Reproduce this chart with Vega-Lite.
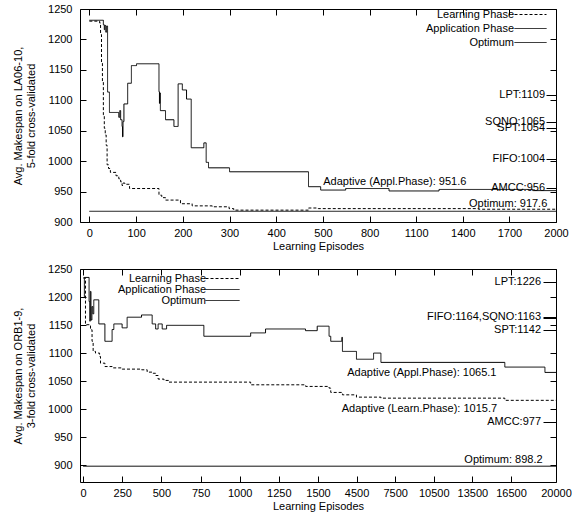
{
  "$schema": "https://vega.github.io/schema/vega-lite/v6.json",
  "padding": {"left": 12, "top": 2, "right": 0, "bottom": 0},
  "spacing": 10,
  "config": {
    "font": "Liberation Sans",
    "view": {"stroke": "black", "strokeWidth": 1},
    "axis": {"domain": false, "grid": false, "labelFont": "Liberation Sans", "labelFontSize": 11, "labelColor": "black", "labelOverlap": false, "labelFlush": false, "labelBound": false, "ticks": true, "tickColor": "black", "tickWidth": 1, "titleFont": "Liberation Sans", "titleFontSize": 11, "titleFontWeight": "normal", "titleColor": "black"},
    "legend": {"labelFont": "Liberation Sans", "labelFontSize": 11, "labelColor": "black", "padding": 0},
    "text": {"font": "Liberation Sans", "fontSize": 11, "color": "black"}
  },
  "resolve": {"scale": {"x": "independent", "y": "independent", "strokeDash": "independent"}, "legend": {"strokeDash": "independent"}},
  "datasets": {
    "top_lines": [
      {"series": "Learning Phase", "episode": 0, "makespan": 1230},
      {"series": "Learning Phase", "episode": 22, "makespan": 1227},
      {"series": "Learning Phase", "episode": 24, "makespan": 1208},
      {"series": "Learning Phase", "episode": 26, "makespan": 1161},
      {"series": "Learning Phase", "episode": 28, "makespan": 1131},
      {"series": "Learning Phase", "episode": 30, "makespan": 1076},
      {"series": "Learning Phase", "episode": 32, "makespan": 1054},
      {"series": "Learning Phase", "episode": 34, "makespan": 1043},
      {"series": "Learning Phase", "episode": 36, "makespan": 1026},
      {"series": "Learning Phase", "episode": 38, "makespan": 994},
      {"series": "Learning Phase", "episode": 41, "makespan": 988},
      {"series": "Learning Phase", "episode": 45, "makespan": 981.5},
      {"series": "Learning Phase", "episode": 57, "makespan": 976},
      {"series": "Learning Phase", "episode": 63, "makespan": 971},
      {"series": "Learning Phase", "episode": 67, "makespan": 966},
      {"series": "Learning Phase", "episode": 70, "makespan": 960},
      {"series": "Learning Phase", "episode": 72, "makespan": 964},
      {"series": "Learning Phase", "episode": 76, "makespan": 962},
      {"series": "Learning Phase", "episode": 86, "makespan": 955},
      {"series": "Learning Phase", "episode": 149, "makespan": 944},
      {"series": "Learning Phase", "episode": 155, "makespan": 940},
      {"series": "Learning Phase", "episode": 163, "makespan": 936},
      {"series": "Learning Phase", "episode": 195, "makespan": 930},
      {"series": "Learning Phase", "episode": 220, "makespan": 926.5},
      {"series": "Learning Phase", "episode": 263, "makespan": 925},
      {"series": "Learning Phase", "episode": 299, "makespan": 922},
      {"series": "Learning Phase", "episode": 309, "makespan": 919.5},
      {"series": "Learning Phase", "episode": 469, "makespan": 923},
      {"series": "Learning Phase", "episode": 490, "makespan": 922},
      {"series": "Learning Phase", "episode": 1500, "makespan": 921},
      {"series": "Learning Phase", "episode": 2000, "makespan": 921},
      {"series": "Application Phase", "episode": 0, "makespan": 1231.5},
      {"series": "Application Phase", "episode": 30, "makespan": 1224},
      {"series": "Application Phase", "episode": 32, "makespan": 1216},
      {"series": "Application Phase", "episode": 33, "makespan": 1223},
      {"series": "Application Phase", "episode": 35, "makespan": 1212},
      {"series": "Application Phase", "episode": 37, "makespan": 1222},
      {"series": "Application Phase", "episode": 39, "makespan": 1113.5},
      {"series": "Application Phase", "episode": 43, "makespan": 1080},
      {"series": "Application Phase", "episode": 62, "makespan": 1080},
      {"series": "Application Phase", "episode": 63, "makespan": 1072},
      {"series": "Application Phase", "episode": 65, "makespan": 1083},
      {"series": "Application Phase", "episode": 67, "makespan": 1068},
      {"series": "Application Phase", "episode": 70, "makespan": 1057},
      {"series": "Application Phase", "episode": 71, "makespan": 1040},
      {"series": "Application Phase", "episode": 72, "makespan": 1065},
      {"series": "Application Phase", "episode": 74, "makespan": 1094},
      {"series": "Application Phase", "episode": 82, "makespan": 1128},
      {"series": "Application Phase", "episode": 90, "makespan": 1157},
      {"series": "Application Phase", "episode": 101, "makespan": 1160},
      {"series": "Application Phase", "episode": 149, "makespan": 1114},
      {"series": "Application Phase", "episode": 150, "makespan": 1095},
      {"series": "Application Phase", "episode": 151, "makespan": 1112},
      {"series": "Application Phase", "episode": 152, "makespan": 1083},
      {"series": "Application Phase", "episode": 163, "makespan": 1068},
      {"series": "Application Phase", "episode": 181, "makespan": 1057},
      {"series": "Application Phase", "episode": 190, "makespan": 1127},
      {"series": "Application Phase", "episode": 199, "makespan": 1117},
      {"series": "Application Phase", "episode": 208, "makespan": 1102},
      {"series": "Application Phase", "episode": 218, "makespan": 1022},
      {"series": "Application Phase", "episode": 245, "makespan": 1030},
      {"series": "Application Phase", "episode": 250, "makespan": 998},
      {"series": "Application Phase", "episode": 255, "makespan": 989},
      {"series": "Application Phase", "episode": 300, "makespan": 982.5},
      {"series": "Application Phase", "episode": 469, "makespan": 958},
      {"series": "Application Phase", "episode": 495, "makespan": 952.5},
      {"series": "Application Phase", "episode": 646, "makespan": 955},
      {"series": "Application Phase", "episode": 925, "makespan": 951},
      {"series": "Application Phase", "episode": 1247, "makespan": 953.5},
      {"series": "Application Phase", "episode": 1850, "makespan": 951.6},
      {"series": "Application Phase", "episode": 2000, "makespan": 951.6},
      {"series": "Optimum", "episode": 0, "makespan": 917.6},
      {"series": "Optimum", "episode": 2000, "makespan": 917.6}
    ],
    "top_marks": [
      {"label": "LPT:1109", "value": 1109},
      {"label": "SQNO:1065", "value": 1065},
      {"label": "SPT:1054", "value": 1054},
      {"label": "FIFO:1004", "value": 1004},
      {"label": "AMCC:956", "value": 956}
    ],
    "top_notes": [
      {"note": "Adaptive (Appl.Phase): 951.6", "episode": 1423, "makespan": 966},
      {"note": "Optimum: 917.6", "episode": 1944, "makespan": 930}
    ],
    "bot_lines": [
      {"series": "Learning Phase", "episode": 0, "makespan": 1234},
      {"series": "Learning Phase", "episode": 15, "makespan": 1150.6},
      {"series": "Learning Phase", "episode": 41, "makespan": 1150},
      {"series": "Learning Phase", "episode": 47, "makespan": 1141.6},
      {"series": "Learning Phase", "episode": 57, "makespan": 1121},
      {"series": "Learning Phase", "episode": 64, "makespan": 1103},
      {"series": "Learning Phase", "episode": 79, "makespan": 1100},
      {"series": "Learning Phase", "episode": 105, "makespan": 1094},
      {"series": "Learning Phase", "episode": 111, "makespan": 1082},
      {"series": "Learning Phase", "episode": 139, "makespan": 1076},
      {"series": "Learning Phase", "episode": 185, "makespan": 1073.6},
      {"series": "Learning Phase", "episode": 249, "makespan": 1071.4},
      {"series": "Learning Phase", "episode": 373, "makespan": 1070.2},
      {"series": "Learning Phase", "episode": 409, "makespan": 1066},
      {"series": "Learning Phase", "episode": 447, "makespan": 1064},
      {"series": "Learning Phase", "episode": 463, "makespan": 1060},
      {"series": "Learning Phase", "episode": 479, "makespan": 1053.6},
      {"series": "Learning Phase", "episode": 516, "makespan": 1051.2},
      {"series": "Learning Phase", "episode": 548, "makespan": 1048.2},
      {"series": "Learning Phase", "episode": 1070, "makespan": 1043.4},
      {"series": "Learning Phase", "episode": 1421, "makespan": 1040.5},
      {"series": "Learning Phase", "episode": 2360, "makespan": 1037.5},
      {"series": "Learning Phase", "episode": 2490, "makespan": 1029.8},
      {"series": "Learning Phase", "episode": 3400, "makespan": 1025.5},
      {"series": "Learning Phase", "episode": 4490, "makespan": 1021.4},
      {"series": "Learning Phase", "episode": 6390, "makespan": 1019.6},
      {"series": "Learning Phase", "episode": 16020, "makespan": 1015.7},
      {"series": "Learning Phase", "episode": 20000, "makespan": 1015.7},
      {"series": "Application Phase", "episode": 0, "makespan": 1199},
      {"series": "Application Phase", "episode": 8, "makespan": 1235},
      {"series": "Application Phase", "episode": 38, "makespan": 1192},
      {"series": "Application Phase", "episode": 42, "makespan": 1157},
      {"series": "Application Phase", "episode": 46, "makespan": 1210},
      {"series": "Application Phase", "episode": 50, "makespan": 1159},
      {"series": "Application Phase", "episode": 56, "makespan": 1183},
      {"series": "Application Phase", "episode": 62, "makespan": 1170},
      {"series": "Application Phase", "episode": 68, "makespan": 1195},
      {"series": "Application Phase", "episode": 100, "makespan": 1152},
      {"series": "Application Phase", "episode": 139, "makespan": 1121},
      {"series": "Application Phase", "episode": 185, "makespan": 1142},
      {"series": "Application Phase", "episode": 196, "makespan": 1152},
      {"series": "Application Phase", "episode": 249, "makespan": 1145},
      {"series": "Application Phase", "episode": 281, "makespan": 1164},
      {"series": "Application Phase", "episode": 373, "makespan": 1168},
      {"series": "Application Phase", "episode": 441, "makespan": 1152},
      {"series": "Application Phase", "episode": 463, "makespan": 1143},
      {"series": "Application Phase", "episode": 479, "makespan": 1152},
      {"series": "Application Phase", "episode": 505, "makespan": 1143},
      {"series": "Application Phase", "episode": 533, "makespan": 1149.5},
      {"series": "Application Phase", "episode": 771, "makespan": 1130},
      {"series": "Application Phase", "episode": 1070, "makespan": 1136},
      {"series": "Application Phase", "episode": 1165, "makespan": 1143},
      {"series": "Application Phase", "episode": 1420, "makespan": 1140},
      {"series": "Application Phase", "episode": 1495, "makespan": 1148},
      {"series": "Application Phase", "episode": 2360, "makespan": 1130},
      {"series": "Application Phase", "episode": 2490, "makespan": 1121},
      {"series": "Application Phase", "episode": 3350, "makespan": 1128},
      {"series": "Application Phase", "episode": 3400, "makespan": 1103},
      {"series": "Application Phase", "episode": 4490, "makespan": 1089},
      {"series": "Application Phase", "episode": 5820, "makespan": 1100},
      {"series": "Application Phase", "episode": 6390, "makespan": 1083.4},
      {"series": "Application Phase", "episode": 16020, "makespan": 1075},
      {"series": "Application Phase", "episode": 19140, "makespan": 1065.5},
      {"series": "Application Phase", "episode": 20000, "makespan": 1065.5},
      {"series": "Optimum", "episode": 0, "makespan": 898.2},
      {"series": "Optimum", "episode": 20000, "makespan": 898.2}
    ],
    "bot_marks": [
      {"label": "LPT:1226", "value": 1226},
      {"label": "FIFO:1164,SQNO:1163", "value": 1163.5},
      {"label": "SPT:1142", "value": 1142},
      {"label": "AMCC:977", "value": 977}
    ],
    "bot_notes": [
      {"note": "Adaptive (Appl.Phase): 1065.1", "episode": 15372, "makespan": 1064.3},
      {"note": "Adaptive (Learn.Phase): 1015.7", "episode": 15420, "makespan": 1000},
      {"note": "Optimum: 898.2", "episode": 18960, "makespan": 909.5}
    ]
  },
  "vconcat": [
    {
      "width": 476,
      "height": 213,
      "resolve": {"axis": {"x": "independent", "y": "independent"}},
      "layer": [
        {
          "data": {"name": "top_lines"},
          "transform": [{"filter": "datum.series != 'Optimum'"}],
          "mark": {"type": "line", "interpolate": "step-after", "color": "black", "strokeWidth": 1},
          "encoding": {
            "x": {"field": "episode", "type": "quantitative",
              "scale": {"domain": [-20, 500, 2000], "range": [0, 243, 476], "nice": false, "zero": false},
              "axis": {"orient": "bottom", "values": [0, 100, 200, 300, 400, 500, 800, 1100, 1400, 1700, 2000], "format": "d", "ticks": false, "labelPadding": 5, "title": "Learning Episodes", "titlePadding": 2}},
            "y": {"field": "makespan", "type": "quantitative",
              "scale": {"domain": [900, 1250], "nice": false, "zero": false},
              "axis": {"orient": "left", "values": [900, 950, 1000, 1050, 1100, 1150, 1200, 1250], "format": "d", "ticks": false, "labelPadding": 8, "title": ["Avg. Makespan on LA06-10,", "5-fold cross-validated"], "titlePadding": 11, "titleLineHeight": 13}},
            "strokeDash": {"field": "series", "type": "nominal",
              "scale": {"domain": ["Learning Phase", "Application Phase", "Optimum"], "range": [[3, 2], [1, 0], [1, 0]]},
              "legend": {"title": null, "orient": "none", "legendX": 423, "legendY": 0, "symbolType": "M6,0H38", "symbolSize": 4, "symbolStrokeColor": "black", "symbolStrokeWidth": 1, "labelAlign": "right", "labelOffset": 0, "rowPadding": 2}}
          }
        },
        {
          "data": {"name": "top_lines"},
          "transform": [{"filter": "datum.series == 'Optimum'"}],
          "mark": {"type": "line", "interpolate": "step-after", "color": "black", "strokeWidth": 1},
          "encoding": {
            "x": {"field": "episode", "type": "quantitative",
              "scale": {"domain": [-20, 500, 2000], "range": [0, 243, 476], "nice": false, "zero": false},
              "axis": {"orient": "bottom", "values": [0, 100, 200, 300, 400, 500, 800, 1100, 1400, 1700, 2000], "labels": false, "ticks": true, "tickSize": 6, "offset": -6, "title": null}},
            "y": {"field": "makespan", "type": "quantitative",
              "scale": {"domain": [900, 1250], "nice": false, "zero": false},
              "axis": {"orient": "left", "values": [900, 950, 1000, 1050, 1100, 1150, 1200, 1250], "labels": false, "ticks": true, "tickSize": 6, "offset": -6, "title": null}},
            "strokeDash": {"field": "series", "type": "nominal",
              "scale": {"domain": ["Learning Phase", "Application Phase", "Optimum"], "range": [[3, 2], [1, 0], [1, 0]]}}
          }
        },
        {
          "data": {"name": "top_marks"},
          "mark": {"type": "text", "align": "right", "baseline": "middle", "dx": -11},
          "encoding": {
            "x": {"datum": 2000, "type": "quantitative",
              "scale": {"domain": [-20, 500, 2000], "range": [0, 243, 476], "nice": false, "zero": false},
              "axis": {"orient": "top", "values": [0, 100, 200, 300, 400, 500, 800, 1100, 1400, 1700, 2000], "labels": false, "ticks": true, "tickSize": 6, "offset": -6, "title": null}},
            "y": {"field": "value", "type": "quantitative",
              "scale": {"domain": [900, 1250], "nice": false, "zero": false},
              "axis": {"orient": "right", "values": [1109, 1065, 1054, 1004, 956], "labels": false, "ticks": true, "tickSize": 10, "offset": -10, "title": null}},
            "text": {"field": "label"}
          }
        },
        {
          "data": {"name": "top_notes"},
          "mark": {"type": "text", "align": "right", "baseline": "middle"},
          "encoding": {
            "x": {"field": "episode", "type": "quantitative",
              "scale": {"domain": [-20, 500, 2000], "range": [0, 243, 476], "nice": false, "zero": false}, "axis": null},
            "y": {"field": "makespan", "type": "quantitative",
              "scale": {"domain": [900, 1250], "nice": false, "zero": false},
              "axis": {"orient": "right", "values": [900, 950, 1000, 1050, 1100, 1150, 1200, 1250], "labels": false, "ticks": true, "tickSize": 6, "offset": -6, "title": null}},
            "text": {"field": "note"}
          }
        }
      ]
    },
    {
      "width": 476,
      "height": 213,
      "resolve": {"axis": {"x": "independent", "y": "independent"}},
      "layer": [
        {
          "data": {"name": "bot_lines"},
          "transform": [{"filter": "datum.series != 'Optimum'"}],
          "mark": {"type": "line", "interpolate": "step-after", "color": "black", "strokeWidth": 1},
          "encoding": {
            "x": {"field": "episode", "type": "quantitative",
              "scale": {"domain": [-20, 1500, 20000], "range": [0, 238, 476], "nice": false, "zero": false},
              "axis": {"orient": "bottom", "values": [0, 250, 500, 750, 1000, 1250, 1500, 4500, 7500, 10500, 13500, 16500, 20000], "format": "d", "ticks": false, "labelPadding": 5, "title": "Learning Episodes", "titlePadding": 2}},
            "y": {"field": "makespan", "type": "quantitative",
              "scale": {"domain": [870, 1250], "nice": false, "zero": false},
              "axis": {"orient": "left", "values": [900, 950, 1000, 1050, 1100, 1150, 1200, 1250], "format": "d", "ticks": false, "labelPadding": 8, "title": ["Avg. Makespan on ORB1-9,", "3-fold cross-validated"], "titlePadding": 11, "titleLineHeight": 13}},
            "strokeDash": {"field": "series", "type": "nominal",
              "scale": {"domain": ["Learning Phase", "Application Phase", "Optimum"], "range": [[3, 2], [1, 0], [1, 0]]},
              "legend": {"title": null, "orient": "none", "legendX": 115, "legendY": 4, "symbolType": "M5,0H39", "symbolSize": 4, "symbolStrokeColor": "black", "symbolStrokeWidth": 1, "labelAlign": "right", "labelOffset": 0, "rowPadding": -1}}
          }
        },
        {
          "data": {"name": "bot_lines"},
          "transform": [{"filter": "datum.series == 'Optimum'"}],
          "mark": {"type": "line", "interpolate": "step-after", "color": "black", "strokeWidth": 1},
          "encoding": {
            "x": {"field": "episode", "type": "quantitative",
              "scale": {"domain": [-20, 1500, 20000], "range": [0, 238, 476], "nice": false, "zero": false},
              "axis": {"orient": "bottom", "values": [0, 250, 500, 750, 1000, 1250, 1500, 4500, 7500, 10500, 13500, 16500, 20000], "labels": false, "ticks": true, "tickSize": 6, "offset": -6, "title": null}},
            "y": {"field": "makespan", "type": "quantitative",
              "scale": {"domain": [870, 1250], "nice": false, "zero": false},
              "axis": {"orient": "left", "values": [900, 950, 1000, 1050, 1100, 1150, 1200, 1250], "labels": false, "ticks": true, "tickSize": 6, "offset": -6, "title": null}},
            "strokeDash": {"field": "series", "type": "nominal",
              "scale": {"domain": ["Learning Phase", "Application Phase", "Optimum"], "range": [[3, 2], [1, 0], [1, 0]]}}
          }
        },
        {
          "data": {"name": "bot_marks"},
          "mark": {"type": "text", "align": "right", "baseline": "middle", "dx": -15},
          "encoding": {
            "x": {"datum": 20000, "type": "quantitative",
              "scale": {"domain": [-20, 1500, 20000], "range": [0, 238, 476], "nice": false, "zero": false},
              "axis": {"orient": "top", "values": [0, 250, 500, 750, 1000, 1250, 1500, 4500, 7500, 10500, 13500, 16500, 20000], "labels": false, "ticks": true, "tickSize": 6, "offset": -6, "title": null}},
            "y": {"field": "value", "type": "quantitative",
              "scale": {"domain": [870, 1250], "nice": false, "zero": false},
              "axis": {"orient": "right", "values": [1226, 1164, 1163, 1142, 977], "labels": false, "ticks": true, "tickSize": 13, "offset": -13, "title": null}},
            "text": {"field": "label"}
          }
        },
        {
          "data": {"name": "bot_notes"},
          "mark": {"type": "text", "align": "right", "baseline": "middle"},
          "encoding": {
            "x": {"field": "episode", "type": "quantitative",
              "scale": {"domain": [-20, 1500, 20000], "range": [0, 238, 476], "nice": false, "zero": false}, "axis": null},
            "y": {"field": "makespan", "type": "quantitative",
              "scale": {"domain": [870, 1250], "nice": false, "zero": false},
              "axis": {"orient": "right", "values": [900, 950, 1000, 1050, 1100, 1150, 1200, 1250], "labels": false, "ticks": true, "tickSize": 6, "offset": -6, "title": null}},
            "text": {"field": "note"}
          }
        }
      ]
    }
  ]
}
